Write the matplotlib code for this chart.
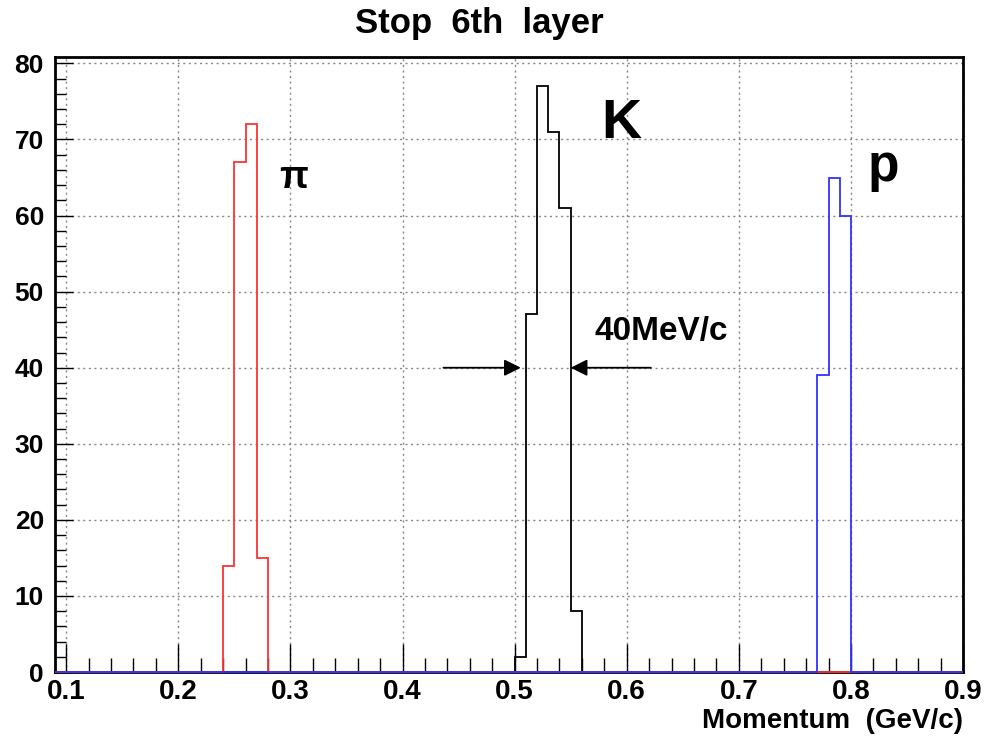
import numpy as np
import matplotlib
matplotlib.use("Agg")
import matplotlib.pyplot as plt
from matplotlib.ticker import MultipleLocator, FormatStrFormatter

plt.rcParams['font.family'] = ['Liberation Sans', 'DejaVu Sans']
plt.rcParams['font.weight'] = 'bold'

# histogram data: 10 MeV/c bins from 0.09 to 0.9 GeV/c
bin_edges = np.round(np.arange(0.09, 0.9001, 0.01), 3)
pion_lo, pion_counts = 0.24, [14, 67, 72, 15]
kaon_lo, kaon_counts = 0.50, [2, 47, 77, 71, 61, 8]
proton_lo, proton_counts = 0.77, [39, 65, 60]


def fill_hist(lo, counts):
    h = np.zeros(len(bin_edges) - 1)
    i0 = int(round((lo - bin_edges[0]) / 0.01))
    h[i0:i0 + len(counts)] = counts
    return h


pion = fill_hist(pion_lo, pion_counts)
kaon = fill_hist(kaon_lo, kaon_counts)
proton = fill_hist(proton_lo, proton_counts)

fig = plt.figure(figsize=(9.84, 7.41), dpi=100)
ax = fig.add_axes([0.0559, 0.093, 0.9228, 0.8302])

ax.stairs(kaon, bin_edges, color='black', lw=1.3, zorder=3, clip_on=False)
ax.stairs(pion, bin_edges, color='#ff3333', lw=1.3, zorder=4, clip_on=False)
ax.stairs(proton, bin_edges, color='#3333ff', lw=1.3, zorder=5, clip_on=False)

ax.set_xlim(0.09, 0.9)
ax.set_ylim(0, 80.85)
ax.set_xticks(np.round(np.arange(0.1, 0.91, 0.1), 2))
ax.xaxis.set_minor_locator(MultipleLocator(0.02))
ax.xaxis.set_major_formatter(FormatStrFormatter('%.1f'))
ax.yaxis.set_major_locator(MultipleLocator(10))
ax.yaxis.set_minor_locator(MultipleLocator(2))
ax.tick_params(which='both', direction='in', top=False, right=False)
ax.tick_params(axis='x', which='major', length=20, width=1, labelsize=20, pad=5)
ax.tick_params(axis='x', which='minor', length=10, width=1)
ax.tick_params(axis='y', which='major', length=13, width=1, labelsize=19, pad=8)
ax.tick_params(axis='y', which='minor', length=8, width=1)
ax.grid(True, which='major', color='#888888', ls=(0, (1.5, 2.5)), lw=1)
for s in ax.spines.values():
    s.set_linewidth(2)

fig.text(479 / 984, 1 - 23 / 741, "Stop  6th  layer", fontsize=25, fontweight='bold',
         ha='center', va='center')
ax.set_xlabel("Momentum  (GeV/c)", fontsize=20, fontweight='bold', loc='right', labelpad=2)

ax.text(0.29, 63.6, "π", fontsize=27, ha='left', va='baseline')
ax.text(0.577, 70.2, "K", fontsize=40, ha='left', va='baseline')
ax.text(0.815, 64.6, "p", fontsize=37, ha='left', va='baseline')
ax.text(0.571, 43.6, "40MeV/c", fontsize=24, ha='left', va='baseline')

ax.annotate("", xy=(0.508, 40), xytext=(0.434, 40),
            arrowprops=dict(arrowstyle='-|>', color='black', lw=1.3, mutation_scale=25))
ax.annotate("", xy=(0.5475, 40), xytext=(0.624, 40),
            arrowprops=dict(arrowstyle='-|>', color='black', lw=1.3, mutation_scale=25))

fig.savefig("out.png", dpi=100)
